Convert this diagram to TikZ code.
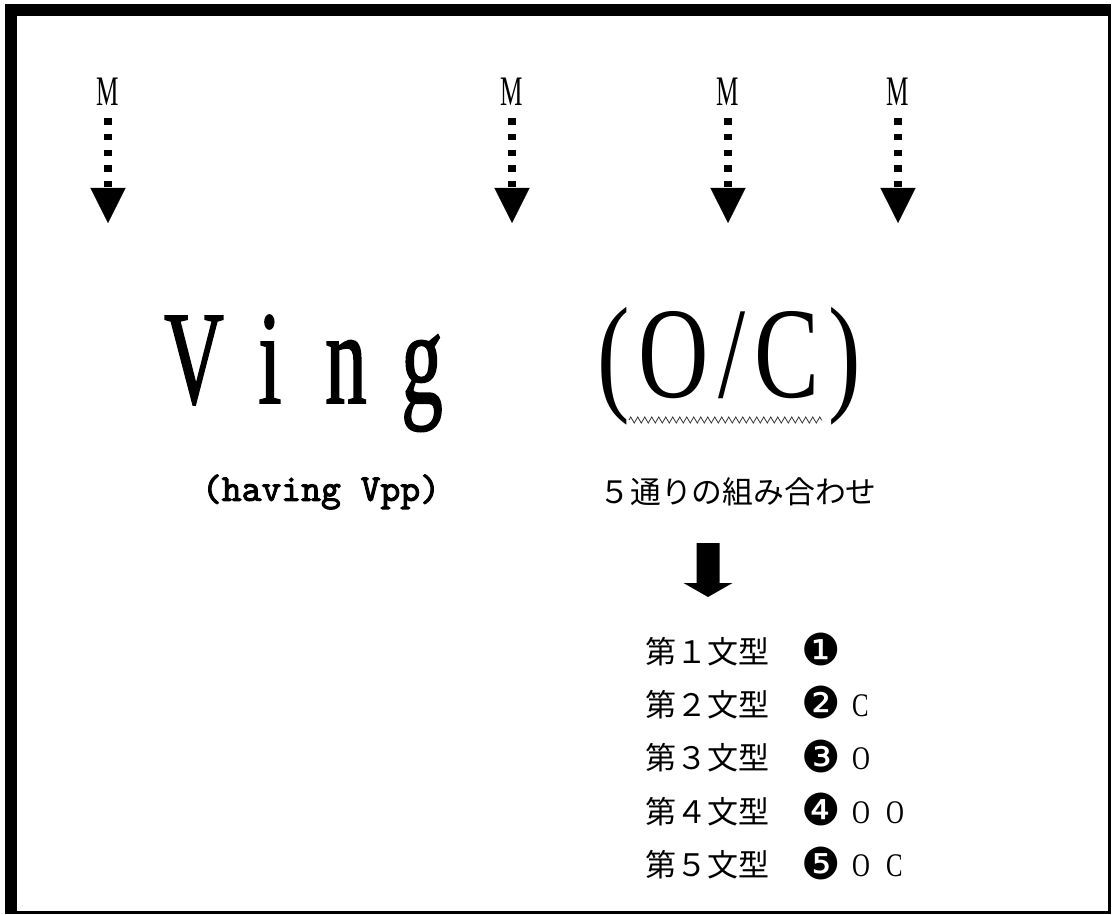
\documentclass[tikz,border=0pt]{standalone}
\usepackage{fontspec}
\usetikzlibrary{arrows.meta,decorations.pathmorphing}
\newfontfamily\minchofont[FakeStretch=0.62,FakeBold=1.2]{Liberation Serif}
\newfontfamily\ocfont[FakeStretch=0.75,LetterSpace=7]{Liberation Serif}
\newfontfamily\mfont[FakeStretch=0.6]{Liberation Serif}
\newfontfamily\listfont[FakeStretch=0.75,WordSpace=2.6]{Liberation Serif}
\newfontfamily\havingfont[FakeBold=2.5]{lmmono10-regular.otf}
\newfontfamily\jpfont{Noto Sans CJK JP}
\newfontfamily\dingfont{DejaVu Sans}

\begin{document}
\begin{tikzpicture}[x=1pt,y=-1pt,
    mlabel/.style={anchor=base,inner sep=0pt,font=\fontsize{42}{42}\mfont},
    dotarrow/.style={line width=8pt,dash pattern=on 6.5pt off 9.2pt,shorten <=12pt,
      -{Triangle[width=35pt,length=35pt,line width=0.1pt]}},
    wavy/.style={gray!40!black,line width=0.8pt,decorate,
      decoration={zigzag,segment length=7pt,amplitude=3pt}},
    rowtext/.style={anchor=base,inner sep=0pt,font=\fontsize{31}{31}\jpfont}]
    \useasboundingbox(0,0) rectangle (1112,915);

    \fill(5,4) rectangle (1111,16);
    \fill(5,4) rectangle (17,914);
    \fill(1108,4) rectangle (1111,914);
    \fill(5,911) rectangle (1111,914);

    \foreach \x [count=\i] in {108,512,728,898}{
      \node[mlabel] (m\i) at (\x,106) {M};
      \coordinate (tip\i) at (\x,223);
      \draw[dotarrow] (m\i) -- (tip\i);
    }

    \node[anchor=base,inner sep=0pt,font=\fontsize{133}{133}\minchofont] (ving) at (308,403)
      {\makebox[76pt]{V}\makebox[76pt]{i}\makebox[76pt]{n}\makebox[76pt]{g}};
    \node[anchor=base,inner sep=0pt,font=\fontsize{130}{130}\ocfont] (oc) at (729,397) {(O/C)};
    \coordinate (wl) at (629,420);
    \coordinate (wr) at (822,420);
    \draw[wavy] (wl) -- (wr);

    \node[font=\fontsize{37.8}{38}\havingfont] (having) at (321,492) {(having Vpp)};
    \node[font=\fontsize{30.8}{31}\jpfont] (combo) at (738,492) {５通りの組み合わせ};

    \coordinate (bigarrow) at (708,543);
    \fill[shift={(bigarrow)}](-11.5,0)--(11.5,0)--(11.5,40)--(24.5,40)--(0,54)--(-24.5,40)--(-11.5,40)--cycle;

    \foreach \d/\c/\tail [count=\i] in {１/❶/,２/❷/C,３/❸/O,４/❹/O O,５/❺/O C}{
      \node[rowtext] (type\i) at (707.5,{663+53.4*(\i-1)}) {第\d 文型};
      \node[anchor=base west,inner sep=0pt] (form\i) at (801,{663+53.4*(\i-1)})
        {\makebox[51pt][l]{\raisebox{-2.5pt}{\fontsize{44}{44}\dingfont\c}}\fontsize{33}{33}\listfont\tail};
    }
\end{tikzpicture}
\end{document}
